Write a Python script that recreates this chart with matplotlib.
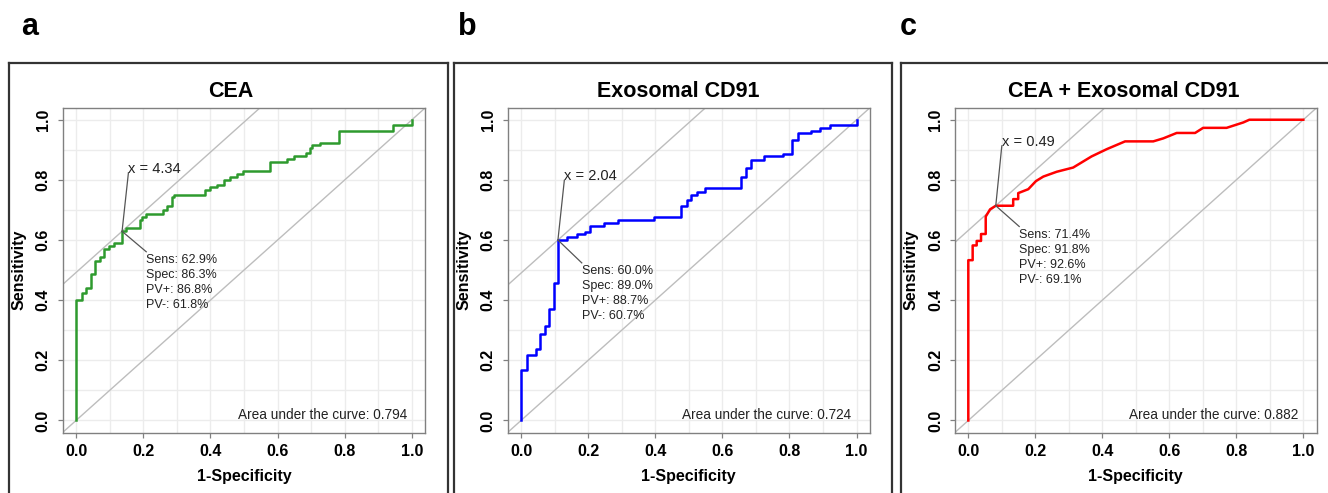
import matplotlib
matplotlib.use("Agg")
import matplotlib.pyplot as plt
from matplotlib.lines import Line2D

plt.rcParams["font.family"] = ["Liberation Sans", "DejaVu Sans"]

# ROC curves, points (1-specificity, sensitivity)
cea_fpr = [0.0, 0.0, 0.017, 0.030, 0.044, 0.057, 0.071, 0.083, 0.099, 0.113, 0.137,
           0.150, 0.190, 0.195, 0.209, 0.258, 0.272, 0.285, 0.292, 0.384, 0.399,
           0.419, 0.439, 0.459, 0.479, 0.497, 0.576, 0.628, 0.648, 0.685, 0.697,
           0.702, 0.727, 0.782, 0.945, 1.0]
cea_tpr = [0.0, 0.400, 0.424, 0.439, 0.487, 0.531, 0.544, 0.570, 0.581, 0.591, 0.629,
           0.640, 0.667, 0.678, 0.687, 0.700, 0.713, 0.742, 0.750, 0.767, 0.776,
           0.783, 0.800, 0.809, 0.820, 0.830, 0.858, 0.869, 0.880, 0.889, 0.906,
           0.916, 0.924, 0.963, 0.983, 1.0]

cd91_fpr = [0.0, 0.0, 0.017, 0.044, 0.057, 0.070, 0.083, 0.099, 0.110, 0.136, 0.166,
            0.191, 0.206, 0.248, 0.290, 0.397, 0.477, 0.494, 0.506, 0.523, 0.548,
            0.657, 0.669, 0.685, 0.725, 0.782, 0.808, 0.824, 0.864, 0.891, 0.921,
            1.0]
cd91_tpr = [0.0, 0.169, 0.217, 0.239, 0.286, 0.313, 0.370, 0.456, 0.600, 0.611, 0.619,
            0.628, 0.647, 0.658, 0.667, 0.676, 0.713, 0.733, 0.750, 0.761, 0.772,
            0.809, 0.839, 0.867, 0.878, 0.887, 0.933, 0.956, 0.963, 0.972, 0.983,
            1.0]

comb_fpr = [0.0, 0.0, 0.013, 0.013, 0.025, 0.025, 0.038, 0.038, 0.052, 0.052, 0.065,
            0.082, 0.134, 0.134, 0.149, 0.149, 0.179, 0.202, 0.224, 0.264, 0.313,
            0.368, 0.413, 0.468, 0.552, 0.582, 0.622, 0.677, 0.701, 0.771, 0.821,
            0.839, 1.0]
comb_tpr = [0.0, 0.533, 0.533, 0.582, 0.582, 0.597, 0.597, 0.620, 0.620, 0.678, 0.702,
            0.714, 0.714, 0.736, 0.736, 0.756, 0.769, 0.796, 0.811, 0.827, 0.841,
            0.878, 0.902, 0.928, 0.928, 0.938, 0.956, 0.956, 0.973, 0.973, 0.991,
            1.0, 1.0]

letters = ["a", "b", "c"]
titles = ["CEA", "Exosomal CD91", "CEA + Exosomal CD91"]
colors = ["#2e9a2e", "#0000ff", "#ff0000"]
cutoffs = ["4.34", "2.04", "0.49"]
sens = [62.9, 60.0, 71.4]
spec = [86.3, 89.0, 91.8]
pv_pos = [86.8, 88.7, 92.6]
pv_neg = [61.8, 60.7, 69.1]
aucs = [0.794, 0.724, 0.882]

# where the labels sit, in data units of each panel
cut_label_xy = [(0.156, 0.824), (0.129, 0.798), (0.100, 0.913)]
stat_label_xy = [(0.209, 0.561), (0.181, 0.524), (0.152, 0.645)]

W, H = 1328, 493
fig = plt.figure(figsize=(W / 100, H / 100), dpi=100)

ax_left = [62.6, 507.6, 954.9]
ax_right = [425.4, 870.0, 1316.7]
ax_top, ax_bot = 107.7, 432.5
box_left = [9.3, 454.0, 901.0]
box_right = [448.3, 892.3, 1340.0]
letter_x = [21, 458, 900]
title_x = [231, 678, 1124]

curves = [(cea_fpr, cea_tpr, "steps-post"),
          (cd91_fpr, cd91_tpr, "steps-post"),
          (comb_fpr, comb_tpr, "default")]

for i in range(3):
    # panel frame (open at the bottom, it runs off the image)
    l, r, t = box_left[i] / W, box_right[i] / W, 1 - 63.3 / H
    for xs, ys in [([l, l], [t, -0.05]), ([r, r], [t, -0.05]), ([l, r], [t, t])]:
        fig.add_artist(Line2D(xs, ys, color="#333333", lw=1.6,
                              transform=fig.transFigure))
    fig.text(letter_x[i] / W, 1 - 35 / H, letters[i], fontsize=22,
             fontweight="bold", ha="left", va="baseline")
    fig.text(title_x[i] / W, 1 - 97 / H, titles[i], fontsize=15.5,
             fontweight="bold", ha="center", va="baseline")

    axw = ax_right[i] - ax_left[i]
    axh = ax_bot - ax_top
    ax = fig.add_axes([ax_left[i] / W, 1 - ax_bot / H, axw / W, axh / H])
    ax.set_xlim(-0.04, 1.04)
    ax.set_ylim(-0.04, 1.04)
    grid = [k / 10 for k in range(11)]
    for g in grid:
        ax.axvline(g, color="#ececec", lw=1, zorder=0)
        ax.axhline(g, color="#ececec", lw=1, zorder=0)

    cx, cy = 1 - spec[i] / 100, sens[i] / 100
    ax.axline((0, 0), slope=1, color="#bdbdbd", lw=1, zorder=1)
    ax.axline((cx, cy), slope=1, color="#bdbdbd", lw=1, zorder=1)

    fx, ty, ds = curves[i]
    ax.plot(fx, ty, color=colors[i], lw=1.8, drawstyle=ds, zorder=3)

    lx, ly = cut_label_xy[i]
    ax.plot([cx, lx], [cy, ly], color="#555555", lw=0.9, zorder=4)
    ax.text(lx, ly, "x = " + cutoffs[i], fontsize=10.5, ha="left",
            va="baseline", color="#222222")
    sx, sy = stat_label_xy[i]
    ax.plot([cx, sx], [cy, sy], color="#555555", lw=0.9, zorder=4)
    stats = (f"Sens: {sens[i]:.1f}%\nSpec: {spec[i]:.1f}%\n"
             f"PV+: {pv_pos[i]:.1f}%\nPV-: {pv_neg[i]:.1f}%")
    ax.text(sx, sy - 0.008, stats, fontsize=9, ha="left", va="top",
            linespacing=1.32, color="#222222")
    ax.text(0.985, 0.017, f"Area under the curve: {aucs[i]:.3f}", fontsize=9.8,
            ha="right", va="center", color="#222222")

    ticks = [0.0, 0.2, 0.4, 0.6, 0.8, 1.0]
    ax.set_xticks(ticks)
    ax.set_yticks(ticks)
    ax.set_xticklabels([f"{v:.1f}" for v in ticks], fontsize=11.5, fontweight="bold")
    ax.set_yticklabels([f"{v:.1f}" for v in ticks], fontsize=11.5, fontweight="bold",
                       rotation=90, va="center")
    ax.tick_params(axis="both", length=3.6, width=0.9, color="#808080")
    ax.tick_params(axis="x", pad=4.5)
    ax.tick_params(axis="y", pad=5.0)
    for s in ax.spines.values():
        s.set_color("#808080")
        s.set_linewidth(1.0)

    # axis titles placed at the positions seen in the picture
    ax.text(0.5, (ax_bot - 476.7) / axh, "1-Specificity", transform=ax.transAxes,
            fontsize=11.5, fontweight="bold", ha="center", va="center")
    ax.text((box_left[i] + 10 - ax_left[i]) / axw, 0.5, "Sensitivity",
            transform=ax.transAxes, fontsize=11.5, fontweight="bold",
            ha="center", va="center", rotation=90)

fig.savefig("out.png", dpi=100)
